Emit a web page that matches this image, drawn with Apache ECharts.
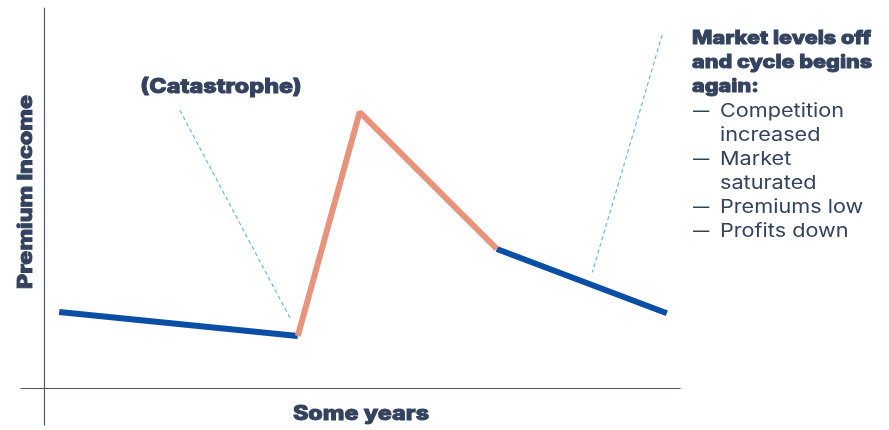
<!DOCTYPE html>
<html>
<head>
<meta charset="utf-8">
<script src="https://cdn.jsdelivr.net/npm/echarts@6/dist/echarts.min.js"></script>
<style>
    html, body {margin: 0; padding: 0; background: #fff;}
    #chart {width: 889px; height: 430px;}
</style>
</head>
<body>
<div id="chart"></div>
<script>
// 市场周期示意图 - 数据(x: 年份进度, y: 保费收入)
var softMarket = [[2.3, 20.6], [38.5, 14.1]];
var hardMarket = [[38.5, 14.1], [47.9, 74.8], [68.7, 37.7]];
var levelOff = [[68.7, 37.7], [94.5, 20.3]];
var pointerCatastrophe = [[20.6, 75.3], [37.5, 18.4]];
var pointerNote = [[93.8, 95.7], [83.2, 31.4]];

var xTitle = 'Some years';
var yTitle = 'Premium Income';
var eventLabel = '(Catastrophe)';
var noteHead = ['Market levels off', 'and cycle begins', 'again:'];
var noteItems = [['Competition', 'increased'], ['Market', 'saturated'], ['Premiums low'], ['Profits down']];

var textColor = '#33425e';
var fontName = 'Inter';
var widen = 1.17;

var el = echarts.init(document.getElementById('chart'));

// 文字(横向拉宽以接近原图字体, 粗体加描边)
var makeText = function (txt, x, y, bold, size, align, rot, sx) {
    return {
        type: 'text', x: x, y: y, rotation: rot || 0, scaleX: sx || widen,
        style: {
            text: txt, fill: textColor, font: (bold ? 800 : 400) + ' ' + size + 'px ' + fontName,
            align: align || 'left', verticalAlign: 'middle',
            stroke: bold ? textColor : null, lineWidth: bold ? 0.9 : 0
        }
    };
};

var graphics = [];
var lineY = 38.5;
var lineStep = 24;
noteHead.forEach(function (t) {
    graphics.push(makeText(t, 692, lineY, true, 18.5));
    lineY += lineStep;
});
noteItems.forEach(function (item) {
    item.forEach(function (t, i) {
        if (i === 0) {
            graphics.push(makeText('—', 693, lineY + 0.5, false, 18.5, 'left', 0, 0.88));
        }
        graphics.push(makeText(t, 720, lineY + 0.5, false, 18.5));
        lineY += lineStep;
    });
});
graphics.push(makeText(eventLabel, 221, 87, true, 20, 'center'));
graphics.push(makeText(xTitle, 361, 414, true, 20, 'center'));
graphics.push(makeText(yTitle, 26, 192, true, 20, 'center', Math.PI / 2));

var lineSeries = function (data, color, width, type) {
    return {
        type: 'line',
        data: data,
        symbol: 'none',
        silent: true,
        animation: false,
        lineStyle: {color: color, width: width, type: type || 'solid', cap: 'butt'}
    };
};

var option = {
    animation: false,
    grid: {left: 21, right: 209, top: 8, bottom: 5},
    xAxis: {
        type: 'value', min: -3.5, max: 96.5,
        axisLine: {show: true, onZero: true, lineStyle: {color: '#50566c', width: 1.2}},
        axisTick: {show: false}, axisLabel: {show: false}, splitLine: {show: false}
    },
    yAxis: {
        type: 'value', min: -10, max: 103,
        axisLine: {show: true, onZero: true, lineStyle: {color: '#50566c', width: 1.2}},
        axisTick: {show: false}, axisLabel: {show: false}, splitLine: {show: false}
    },
    series: [
        lineSeries(pointerCatastrophe, '#5fb2ea', 1.1, [4, 3]),
        lineSeries(pointerNote, '#5fb2ea', 1.1, [4, 3]),
        lineSeries(softMarket, '#0a4ea5', 6),
        lineSeries(levelOff, '#0a4ea5', 6),
        lineSeries(hardMarket, '#e8937b', 6)
    ],
    graphic: graphics
};
el.setOption(option);
</script>
</body>
</html>
